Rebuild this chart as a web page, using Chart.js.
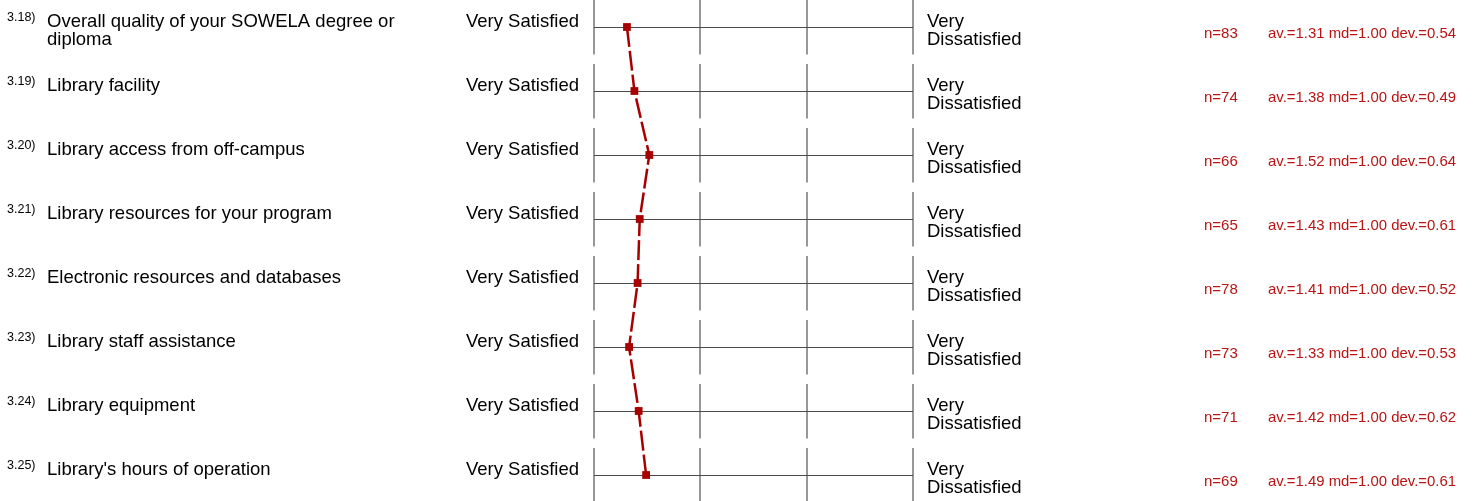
<!DOCTYPE html>
<html>
<head>
<meta charset="utf-8">
<script src="https://cdn.jsdelivr.net/npm/chart.js@4/dist/chart.umd.min.js"></script>
<style>
  html, body { margin: 0; padding: 0; background: #fff; }
  #wrap { width: 1474px; height: 501px; position: relative; }
</style>
</head>
<body>
<div id="wrap"><canvas id="chart" width="1474" height="501"></canvas></div>
<script>
const numbers = ["3.18)", "3.19)", "3.20)", "3.21)", "3.22)", "3.23)", "3.24)", "3.25)"];
const questions = [
  ["Overall quality of your SOWELA degree or", "diploma"],
  ["Library facility"],
  ["Library access from off-campus"],
  ["Library resources for your program"],
  ["Electronic resources and databases"],
  ["Library staff assistance"],
  ["Library equipment"],
  ["Library's hours of operation"]
];
const leftPole = "Very Satisfied";
const rightPole = ["Very", "Dissatisfied"];
const counts = [83, 74, 66, 65, 78, 73, 71, 69];
const averages = [1.31, 1.38, 1.52, 1.43, 1.41, 1.33, 1.42, 1.49];
const medians = [1.00, 1.00, 1.00, 1.00, 1.00, 1.00, 1.00, 1.00];
const deviations = [0.54, 0.49, 0.64, 0.61, 0.52, 0.53, 0.62, 0.61];
const scaleTicks = [1, 2, 3, 4];

const red = '#a80000';
const textRed = '#b81414';

const rowPlugin = {
  id: 'rows',
  beforeDatasetsDraw(chart) {
    const ctx = chart.ctx;
    const xs = chart.scales.x, ys = chart.scales.y;
    const x0 = xs.getPixelForValue(scaleTicks[0]);
    const x1 = xs.getPixelForValue(scaleTicks[scaleTicks.length - 1]);
    ctx.save();
    questions.forEach((q, i) => {
      const y = Math.round(ys.getPixelForValue(i)) + 0.5;
      ctx.strokeStyle = '#767676';
      ctx.lineWidth = 1.5;
      scaleTicks.forEach(t => {
        const x = Math.round(xs.getPixelForValue(t));
        ctx.beginPath();
        ctx.moveTo(x, y - 27.5);
        ctx.lineTo(x, y + 27);
        ctx.stroke();
      });
      ctx.strokeStyle = '#4a4a4a';
      ctx.lineWidth = 1;
      ctx.beginPath();
      ctx.moveTo(x0, y);
      ctx.lineTo(x1, y);
      ctx.stroke();

      // texts
      ctx.fillStyle = '#000';
      ctx.textBaseline = 'middle';
      ctx.textAlign = 'left';
      ctx.font = '12.5px "Liberation Sans", Arial, sans-serif';
      ctx.fillText(numbers[i], 7, y - 9.5);
      ctx.font = '18.5px "Liberation Sans", Arial, sans-serif';
      q.forEach((line, k) => ctx.fillText(line, 47, y - 5.5 + k * 18));
      ctx.textAlign = 'right';
      ctx.fillText(leftPole, 579, y - 5.5);
      ctx.textAlign = 'left';
      rightPole.forEach((line, k) => ctx.fillText(line, 927, y - 5.5 + k * 18));

      ctx.fillStyle = textRed;
      ctx.font = '15px "Liberation Sans", Arial, sans-serif';
      ctx.fillText('n=' + counts[i], 1204, y + 6);
      ctx.font = '15px "Liberation Sans Narrow", "Liberation Sans", Arial, sans-serif';
      const stat = 'av.=' + averages[i].toFixed(2) + ' md=' + medians[i].toFixed(2) + ' dev.=' + deviations[i].toFixed(2);
      const w = ctx.measureText(stat).width;
      ctx.save();
      ctx.translate(1268, y + 6);
      ctx.scale(188 / w, 1);
      ctx.fillText(stat, 0, 0);
      ctx.restore();
    });
    ctx.restore();
  }
};

new Chart(document.getElementById('chart'), {
  type: 'line',
  data: {
    datasets: [{
      data: averages.map((v, i) => ({ x: v, y: i })),
      borderColor: red,
      backgroundColor: red,
      borderWidth: 2.5,
      borderDash: [20, 4],
      pointStyle: 'rect',
      pointRadius: 5.5,
      pointHoverRadius: 5.5,
      pointBackgroundColor: red,
      pointBorderWidth: 0,
      tension: 0,
      clip: false
    }]
  },
  options: {
    responsive: false,
    animation: false,
    events: [],
    layout: { padding: { left: 594, right: 561, top: 27, bottom: 26 } },
    plugins: { legend: { display: false }, tooltip: { enabled: false } },
    scales: {
      x: { type: 'linear', min: 1, max: 4, display: false },
      y: { type: 'linear', min: 0, max: 7, reverse: true, display: false }
    }
  },
  plugins: [rowPlugin]
});
</script>
</body>
</html>
